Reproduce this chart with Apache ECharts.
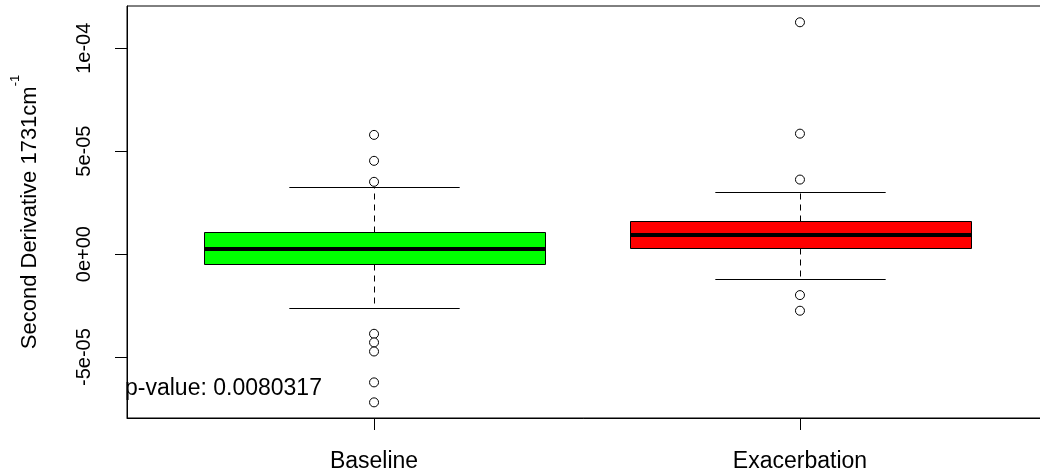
<!DOCTYPE html>
<html>
<head>
<meta charset="utf-8">
<script src="https://cdn.jsdelivr.net/npm/echarts@6/dist/echarts.min.js"></script>
<style>html,body{margin:0;padding:0;background:#fff}#c{width:1040px;height:475px}</style>
</head>
<body>
<div id="c"></div>
<script>
const categories = ['Baseline', 'Exacerbation'];
const boxColors = ['#00ff00', '#ff0000'];
// [min whisker, Q1, median, Q3, max whisker]
const baselineBox = [-2.61e-5, -0.47e-5, 0.24e-5, 1.05e-5, 3.28e-5];
const exacerbationBox = [-1.21e-5, 0.29e-5, 0.92e-5, 1.63e-5, 3.01e-5];
const baselineOutliers = [5.79e-5, 4.53e-5, 3.51e-5, -3.87e-5, -4.29e-5, -4.73e-5, -6.23e-5, -7.20e-5];
const exacerbationOutliers = [11.26e-5, 5.85e-5, 3.62e-5, -1.99e-5, -2.75e-5];
const yTickValues = [-5e-5, 0, 5e-5, 1e-4];
const yTickLabels = ['-5e-05', '0e+00', '5e-05', '1e-04'];
const pValueText = 'p-value: 0.0080317';

const FONT = 'Liberation Sans, Arial, sans-serif';
const boxData = [[1].concat(baselineBox), [2].concat(exacerbationBox)];
const outlierData = baselineOutliers.map(v => [1, v]).concat(exacerbationOutliers.map(v => [2, v]));

const chart = echarts.init(document.getElementById('c'));
chart.setOption({
  animation: false,
  backgroundColor: '#fff',
  title: {
    text: pValueText, left: 125, top: 377, padding: 0,
    textStyle: {fontFamily: FONT, fontSize: 23, fontWeight: 'normal', color: '#000'}
  },
  grid: {left: 127, width: 920, top: 6, height: 412, show: true, borderColor: '#000', borderWidth: 1,
    backgroundColor: 'transparent', containLabel: false, outerBoundsMode: 'none'},
  xAxis: {
    type: 'value', min: 0.42, max: 2.58,
    splitLine: {show: false},
    axisLine: {show: true, onZero: false, lineStyle: {color: '#000', width: 1}},
    axisTick: {show: true, customValues: [1, 2], length: 12, lineStyle: {color: '#000'}},
    axisLabel: {customValues: [1, 2], margin: 32, fontFamily: FONT, fontSize: 23, color: '#000',
      formatter: v => categories[Math.round(v) - 1]}
  },
  yAxis: {
    type: 'value', min: -7.96e-5, max: 12.05e-5,
    splitLine: {show: false},
    axisLine: {show: true, onZero: false, lineStyle: {color: '#000', width: 1}},
    axisTick: {show: true, customValues: yTickValues, length: 12, lineStyle: {color: '#000'}},
    axisLabel: {customValues: yTickValues, rotate: 90, margin: 33, fontFamily: FONT, fontSize: 20, color: '#000',
      formatter: v => { const i = yTickValues.findIndex(t => Math.abs(t - v) < 1e-9); return i >= 0 ? yTickLabels[i] : ''; }},
    name: '{m|Second Derivative 1731cm}{s|-1}',
    nameLocation: 'middle', nameRotate: 90, nameGap: 86,
    nameTextStyle: {fontFamily: FONT, color: '#000',
      rich: {m: {fontFamily: FONT, fontSize: 22, color: '#000', lineHeight: 32, verticalAlign: 'bottom'},
             s: {fontFamily: FONT, fontSize: 13, color: '#000', lineHeight: 32, verticalAlign: 'top'}}}
  },
  series: [
    {
      type: 'custom',
      data: boxData,
      encode: {x: 0, y: [1, 2, 3, 4, 5]},
      renderItem: function (params, api) {
        const x = api.value(0);
        const px = p => Math.round(p) + 0.5;
        const lo = px(api.coord([x, api.value(1)])[1]);
        const q1 = px(api.coord([x, api.value(2)])[1]);
        const md = api.coord([x, api.value(3)]);
        const q3 = px(api.coord([x, api.value(4)])[1]);
        const hi = px(api.coord([x, api.value(5)])[1]);
        const bw = api.size([0.8, 0])[0];
        const cw = api.size([0.4, 0])[0];
        const cx = px(md[0]);
        const my = Math.round(md[1]);
        const bl = px(cx - bw / 2), br = px(cx + bw / 2);
        const blk = {stroke: '#000', lineWidth: 1};
        const dash = {stroke: '#000', lineWidth: 1, lineDash: [6, 5]};
        return {
          type: 'group',
          children: [
            {type: 'line', shape: {x1: cx, y1: q3, x2: cx, y2: hi}, style: dash},
            {type: 'line', shape: {x1: cx, y1: q1, x2: cx, y2: lo}, style: dash},
            {type: 'line', shape: {x1: cx - cw / 2, y1: hi, x2: cx + cw / 2, y2: hi}, style: blk},
            {type: 'line', shape: {x1: cx - cw / 2, y1: lo, x2: cx + cw / 2, y2: lo}, style: blk},
            {type: 'rect', shape: {x: bl, y: q3, width: br - bl, height: q1 - q3},
              style: {fill: boxColors[params.dataIndex], stroke: '#000', lineWidth: 1}},
            {type: 'line', shape: {x1: bl, y1: my, x2: br, y2: my}, style: {stroke: '#000', lineWidth: 4}}
          ]
        };
      },
      z: 2
    },
    {
      type: 'scatter',
      data: outlierData,
      symbol: 'circle', symbolSize: 9,
      itemStyle: {color: '#fff', borderColor: '#000', borderWidth: 1, opacity: 1},
      z: 3
    }
  ]
});
</script>
</body>
</html>
